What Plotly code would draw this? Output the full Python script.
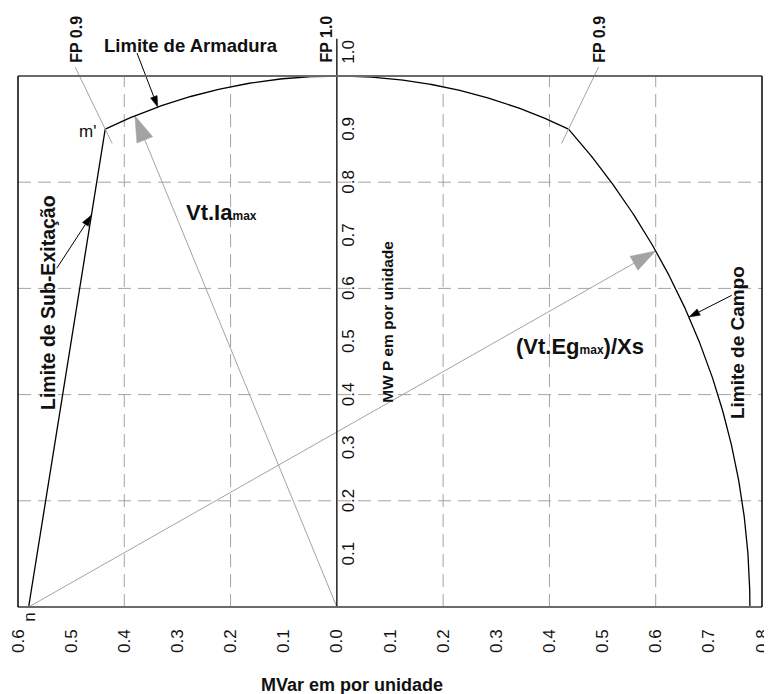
import numpy as np
import plotly.graph_objects as go

# ---------------- data ----------------
x_tick_vals = [-0.6, -0.5, -0.4, -0.3, -0.2, -0.1, 0.0, 0.1, 0.2, 0.3, 0.4, 0.5, 0.6, 0.7, 0.8]
x_tick_text = ["0.6", "0.5", "0.4", "0.3", "0.2", "0.1", "0.0", "0.1", "0.2", "0.3", "0.4", "0.5", "0.6", "0.7", "0.8"]
y_tick_vals = [0.1, 0.2, 0.3, 0.4, 0.5, 0.6, 0.7, 0.8, 0.9, 1.0]
y_tick_text = ["0.1", "0.2", "0.3", "0.4", "0.5", "0.6", "0.7", "0.8", "0.9", "1.0"]
x_grid = [-0.4, -0.2, 0.2, 0.4, 0.6]
y_grid = [0.2, 0.4, 0.6, 0.8]

armature_radius = 1.0          # Vt.Ia max (pu)
power_factor = 0.9             # FP 0.9 limits
n_point = [-0.58, 0.0]         # centre of the field circle / start of under-excitation limit
ia_arrow_q = -0.38             # Q of the Vt.Ia arrow tip
eg_arrow_q = 0.60              # Q of the (Vt.Eg)/Xs arrow tip

X_RANGE = [-0.6, 0.8]
Y_RANGE = [0.0, 1.0]           # y range == paper [0,1], so yref="paper" uses the same values
PX_PER_UNIT = 531.4

GRAY = "#a3a3a3"
FONT = "Liberation Sans, Arial, sans-serif"

# ---------------- geometry ----------------
phi_pf = np.arccos(power_factor)
m_q, m_p = -armature_radius * np.sin(phi_pf), armature_radius * np.cos(phi_pf)   # m'
r_q, r_p = armature_radius * np.sin(phi_pf), armature_radius * np.cos(phi_pf)    # right FP 0.9 point
field_radius = np.hypot(r_q - n_point[0], r_p - n_point[1])

phi = np.linspace(-phi_pf, phi_pf, 200)
arm_q = armature_radius * np.sin(phi)
arm_p = armature_radius * np.cos(phi)

a0 = np.arctan2(r_p - n_point[1], r_q - n_point[0])
a = np.linspace(a0, 0, 200)
fld_q = n_point[0] + field_radius * np.cos(a)
fld_p = n_point[1] + field_radius * np.sin(a)

fig = go.Figure()

def line(xs, ys, color="black", width=1.3):
    fig.add_trace(go.Scatter(x=list(xs), y=list(ys), mode="lines",
                             line=dict(color=color, width=width), hoverinfo="skip"))

def seg(x0, y0, x1, y1, color="black", width=1.0):
    # unclipped segment (yref=paper shares the y axis values here)
    fig.add_shape(type="line", xref="x", yref="paper", x0=x0, y0=y0, x1=x1, y1=y1,
                  line=dict(color=color, width=width))

def arrow(s, t, color, L, W, width=1.0):
    s = np.array(s, float); t = np.array(t, float)
    d = (t - s) / np.linalg.norm(t - s)
    p = np.array([-d[1], d[0]])
    Lu, Wu = L / PX_PER_UNIT, W / PX_PER_UNIT
    base = t - d * Lu
    seg(s[0], s[1], base[0], base[1], color=color, width=width)
    c1 = base + p * Wu / 2
    c2 = base - p * Wu / 2
    fig.add_trace(go.Scatter(x=[t[0], c1[0], c2[0], t[0]], y=[t[1], c1[1], c2[1], t[1]],
                             mode="lines", fill="toself", fillcolor=color,
                             line=dict(color=color, width=0.5), hoverinfo="skip"))

# grid (dashed)
for gx in x_grid:
    fig.add_shape(type="line", x0=gx, x1=gx, y0=Y_RANGE[0], y1=Y_RANGE[1], xref="x", yref="y",
                  line=dict(color=GRAY, width=1, dash="13px,7px"), layer="below")
for gy in y_grid:
    fig.add_shape(type="line", x0=X_RANGE[0], x1=X_RANGE[1], y0=gy, y1=gy, xref="x", yref="y",
                  line=dict(color=GRAY, width=1, dash="13px,7px"), layer="below")

# FP 0.9 radial lines
for sgn in (-1, 1):
    r1, r2 = 0.97, 1.13
    seg(sgn * r1 * np.sin(phi_pf), r1 * np.cos(phi_pf),
        sgn * r2 * np.sin(phi_pf), r2 * np.cos(phi_pf), color=GRAY, width=1)

# gray vectors
ia_tip = [ia_arrow_q, np.sqrt(armature_radius**2 - ia_arrow_q**2)]
arrow([0, 0], ia_tip, GRAY, 26, 17)
eg_tip = [eg_arrow_q, n_point[1] + np.sqrt(field_radius**2 - (eg_arrow_q - n_point[0])**2)]
arrow(n_point, eg_tip, GRAY, 25, 16)

# capability curves
line(arm_q, arm_p)
line(fld_q, fld_p)
line([n_point[0], m_q], [n_point[1], m_p])
seg(X_RANGE[0], 0, n_point[0], 0, width=2)
# central P axis
seg(0, 0, 0, 1.07, width=1.3)

# small black pointer arrows
q_a = -0.337
arrow([-0.376, 1.043], [q_a, np.sqrt(1 - q_a**2)], "black", 11, 7)
p_s = 0.738
arrow([-0.527, 0.638], [n_point[0] + (m_q - n_point[0]) * p_s / m_p, p_s], "black", 11, 7)
p_c = 0.546
arrow([0.743, 0.587], [n_point[0] + np.sqrt(field_radius**2 - p_c**2), p_c], "black", 11, 7)

# plot frame
fig.add_shape(type="line", xref="paper", yref="paper", x0=0, x1=1, y0=1, y1=1, line=dict(color="#6a6a6a", width=2))
fig.add_shape(type="line", xref="paper", yref="paper", x0=0, x1=1, y0=0, y1=0, line=dict(color="#6a6a6a", width=2))
fig.add_shape(type="line", xref="paper", yref="paper", x0=0, x1=0, y0=0, y1=1, line=dict(color="black", width=1.5))
fig.add_shape(type="line", xref="paper", yref="paper", x0=1, x1=1, y0=0, y1=1, line=dict(color="black", width=1.5))

def text(x, y, s, size=18, bold=True, angle=0, color="#111"):
    fig.add_annotation(x=x, y=y, xref="x", yref="paper", text=(f"<b>{s}</b>" if bold else s),
                       showarrow=False, textangle=angle,
                       font=dict(family=FONT, size=size, color=color),
                       xanchor="center", yanchor="middle")

# y tick labels next to the P axis
for v, t in zip(y_tick_vals, y_tick_text):
    yy = v if v < 1.0 else v + 0.045
    text(0.022, yy, t, size=17, bold=False, angle=-90)

text(-0.275, 1.058, "Limite de Armadura", 18.5)
text(-0.489, 1.07, "FP 0.9", 16, angle=-90)
text(-0.019, 1.07, "FP 1.0", 16, angle=-90)
text(0.495, 1.07, "FP 0.9", 16, angle=-90)
text(-0.469, 0.895, "m'", 17, bold=False)
text(-0.218, 0.742, "Vt.Ia<span style='font-size:12px'>max</span>", 22)
text(0.457, 0.49, "(Vt.Eg<span style='font-size:12px'>max</span>)/Xs", 22)
text(-0.544, 0.574, "Limite de Sub-Exitação", 19.5, angle=-90)
text(0.096, 0.537, "MW P em por unidade", 15.5, angle=-90)
text(0.753, 0.497, "Limite de Campo", 19, angle=-90)
text(-0.58, -0.019, "n", 17, bold=False, angle=-90)
text(0.028, -0.147, "MVar em por unidade", 18)

# the page body adds an 8px offset; the figure is sized so the plot area lands at (18,76)-(762,607)
fig.update_layout(
    width=764, height=686,
    margin=dict(l=10, r=10, t=68, b=87, autoexpand=False),
    plot_bgcolor="white", paper_bgcolor="white",
    showlegend=False, hovermode=False,
    xaxis=dict(range=X_RANGE, showgrid=False, zeroline=False, showline=False,
               tickvals=x_tick_vals, ticktext=x_tick_text, tickangle=-90,
               ticks="", ticklabelstandoff=18, automargin=False,
               tickfont=dict(family=FONT, size=17, color="#111"), fixedrange=True),
    yaxis=dict(range=Y_RANGE, visible=False, fixedrange=True, automargin=False),
)

fig.write_html("out.html")
